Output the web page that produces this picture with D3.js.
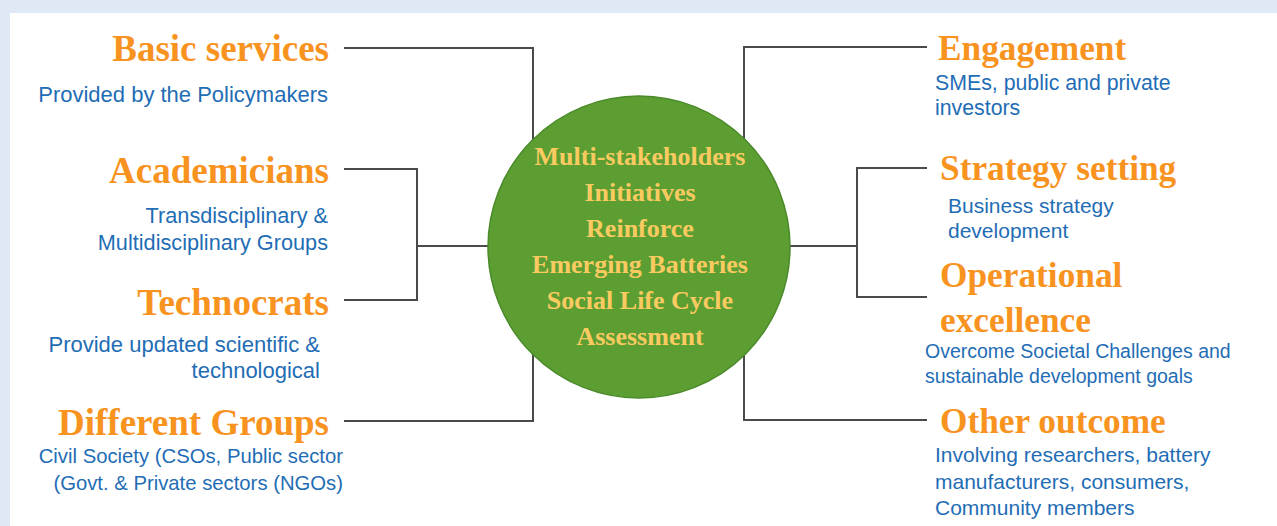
<!DOCTYPE html>
<html>
<head>
<meta charset="utf-8">
<script src="https://cdn.jsdelivr.net/npm/d3@7"></script>
<style>
  html, body { margin: 0; padding: 0; background: #dfe9f6; }
  svg { display: block; }
</style>
</head>
<body>
<svg id="chart" width="1277" height="526"></svg>
<script>
// ---- data ----
const centerLines = ["Multi-stakeholders", "Initiatives", "Reinforce", "Emerging Batteries", "Social Life Cycle", "Assessment"];
const leftTitles = ["Basic services", "Academicians", "Technocrats", "Different Groups"];
const leftNotes = [
  ["Provided by the Policymakers"],
  ["Transdisciplinary &", "Multidisciplinary Groups"],
  ["Provide updated scientific &", "technological"],
  ["Civil Society (CSOs, Public sector", "(Govt. & Private sectors (NGOs)"]
];
const rightTitles = [["Engagement"], ["Strategy setting"], ["Operational", "excellence"], ["Other outcome"]];
const rightNotes = [
  ["SMEs, public and private", "investors"],
  ["Business strategy", "development"],
  ["Overcome Societal Challenges and", "sustainable development goals"],
  ["Involving researchers, battery", "manufacturers, consumers,", "Community members"]
];

// ---- layout (positions and sizes kept separate from data) ----
const W = 1277, H = 526;
const leftTitleY = [61, 183, 315, 435];
const leftTitleX = 329;
const leftTitleSize = 37;
const leftNoteX = [328, 328, 320, 343];
const leftNoteY = [102, 223, 352, 463];
const leftNoteSize = [22, 21.7, 22, 20.3];
const leftNoteGap = [27, 27, 26, 27];
const rightTitleY = [60, 180, 287, 433];
const rightTitleX = [938, 940, 940, 940];
const rightTitleSize = 35.3;
const rightNoteX = [935, 948, 925, 935];
const rightNoteY = [90, 213, 358, 462];
const rightNoteSize = [21.3, 21, 19.5, 21];
const rightNoteGap = [25, 25, 25, 26.5];
const titleLineGap = 45;

const orange = "#f7931e";
const blue = "#1f6db5";
const lineCol = "#4a4a4a";
const serif = "'Liberation Serif', 'Times New Roman', serif";
const sans = "'Liberation Sans', Arial, sans-serif";

const svg = d3.select("#chart");

// background panel
svg.append("rect").attr("x", 0).attr("y", 0).attr("width", W).attr("height", H).attr("fill", "#dfe9f6");
svg.append("rect").attr("x", 10).attr("y", 13).attr("width", W - 10).attr("height", H - 13).attr("fill", "#ffffff");

const cx = 639, cy = 247, r = 151;

// connector lines
const lines = svg.append("g").attr("fill", "none").attr("stroke", lineCol).attr("stroke-width", 2);
const lineGen = d3.line();
const paths = [
  [[344, 48], [533, 48], [533, 170]],
  [[344, 169], [417, 169], [417, 300], [344, 300]],
  [[417, 246], [490, 246]],
  [[344, 421], [533, 421], [533, 330]],
  [[927, 47], [744, 47], [744, 170]],
  [[927, 168], [857, 168], [857, 297], [927, 297]],
  [[788, 246], [857, 246]],
  [[927, 420], [744, 420], [744, 330]]
];
lines.selectAll("path").data(paths).join("path").attr("d", d => lineGen(d));

// central circle
svg.append("circle").attr("cx", cx).attr("cy", cy).attr("r", r)
  .attr("fill", "#5c9e32").attr("stroke", "#4b8a2a").attr("stroke-width", 1.5);

const cyScale = d3.scalePoint().domain(d3.range(centerLines.length)).range([165, 345]);
svg.append("g").selectAll("text").data(centerLines).join("text")
  .attr("x", cx + 1).attr("y", (d, i) => cyScale(i))
  .attr("text-anchor", "middle")
  .attr("font-family", serif)
  .attr("font-weight", "bold").attr("font-size", 26)
  .attr("fill", "#fbcb62")
  .text(d => d);

// left titles
svg.append("g").selectAll("text").data(leftTitles).join("text")
  .attr("x", leftTitleX).attr("y", (d, i) => leftTitleY[i])
  .attr("text-anchor", "end")
  .attr("font-family", serif).attr("font-weight", "bold").attr("font-size", leftTitleSize)
  .attr("fill", orange).text(d => d);

// left notes
const ln = svg.append("g").selectAll("text").data(leftNotes).join("text")
  .attr("text-anchor", "end")
  .attr("font-family", sans).attr("font-size", (d, i) => leftNoteSize[i]).attr("fill", blue);
ln.selectAll("tspan").data((d, i) => d.map((t, j) => ({t, i, j}))).join("tspan")
  .attr("x", d => leftNoteX[d.i]).attr("y", d => leftNoteY[d.i] + d.j * leftNoteGap[d.i])
  .text(d => d.t);

// right titles
const rt = svg.append("g").selectAll("text").data(rightTitles).join("text")
  .attr("font-family", serif).attr("font-weight", "bold").attr("font-size", rightTitleSize)
  .attr("fill", orange);
rt.selectAll("tspan").data((d, i) => d.map((t, j) => ({t, i, j}))).join("tspan")
  .attr("x", d => rightTitleX[d.i]).attr("y", d => rightTitleY[d.i] + d.j * titleLineGap)
  .text(d => d.t);

// right notes
const rn = svg.append("g").selectAll("text").data(rightNotes).join("text")
  .attr("font-family", sans).attr("font-size", (d, i) => rightNoteSize[i]).attr("fill", blue);
rn.selectAll("tspan").data((d, i) => d.map((t, j) => ({t, i, j}))).join("tspan")
  .attr("x", d => rightNoteX[d.i]).attr("y", d => rightNoteY[d.i] + d.j * rightNoteGap[d.i])
  .text(d => d.t);
</script>
</body>
</html>
